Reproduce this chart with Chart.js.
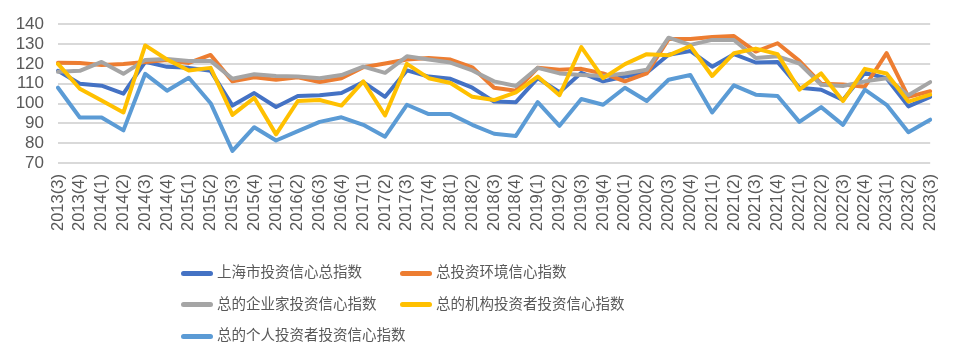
<!DOCTYPE html>
<html>
<head>
<meta charset="utf-8">
<script src="https://cdn.jsdelivr.net/npm/chart.js@4"></script>
<style>
	body { margin: 0; background: #fff; }
	#wrap { position: relative; width: 961px; height: 360px; }
	#legend { position: absolute; left: 181px; top: 258px; width: 700px; font-family: 'Noto Sans CJK SC', sans-serif; font-size: 14.5px; color: #595959; }
	.item { position: absolute; height: 26px; line-height: 26px; white-space: nowrap; }
	.swatch { display: inline-block; width: 32px; height: 5px; border-radius: 3px; vertical-align: middle; margin-right: 4px; }
</style>
</head>
<body>
<div id="wrap">
	<canvas id="chart" width="961" height="360"></canvas>
	<div id="legend"></div>
</div>
<script>
// quarters
const labels = [
	'2013(3)', '2013(4)', '2014(1)', '2014(2)', '2014(3)', '2014(4)', '2015(1)', '2015(2)', '2015(3)', '2015(4)',
	'2016(1)', '2016(2)', '2016(3)', '2016(4)', '2017(1)', '2017(2)', '2017(3)', '2017(4)', '2018(1)', '2018(2)',
	'2018(3)', '2018(4)', '2019(1)', '2019(2)', '2019(3)', '2019(4)', '2020(1)', '2020(2)', '2020(3)', '2020(4)',
	'2021(1)', '2021(2)', '2021(3)', '2021(4)', '2022(1)', '2022(2)', '2022(3)', '2022(4)', '2023(1)', '2023(2)',
	'2023(3)',
]

const names = ['上海市投资信心总指数', '总投资环境信心指数', '总的企业家投资信心指数', '总的机构投资者投资信心指数', '总的个人投资者投资信心指数']

const shanghai = [116.5, 110, 109, 105, 121, 118.5, 118, 116.5, 99, 105.3, 98.3, 103.8, 104.2, 105.3, 110.8, 103.4, 116.7, 113.6, 112.5, 108, 101, 100.7, 112.8, 105.7, 115.5, 111.2, 113.6, 115.5, 124.6, 126.5, 118.6, 124.9, 120.7, 121, 108, 107, 101.8, 115.5, 112.8, 98.6, 103.4]
const environment = [120.6, 120.5, 119.5, 120, 121, 122, 120.5, 124.5, 111.2, 113.3, 112, 113.3, 110.9, 112.8, 118.3, 120.2, 122.2, 123, 122.2, 118.3, 108, 106.5, 118, 117, 117.5, 115.2, 111.2, 115.2, 132.5, 132.5, 133.6, 134, 126.2, 130.4, 121.5, 110, 109.6, 108.5, 125.4, 103.4, 106.2]
const entrepreneur = [116, 116.5, 121, 115, 122, 122.5, 121.5, 121.5, 112.5, 114.8, 113.9, 113.6, 112.8, 114.4, 118.6, 115.5, 123.8, 122.2, 120.7, 116.7, 111.2, 108.9, 118, 115.2, 114.4, 113.9, 115.2, 117, 133.2, 129.6, 132.1, 132, 123, 123.8, 120.2, 109.5, 108.9, 111.2, 112.8, 104.2, 110.8]
const institution = [120, 107.5, 101.5, 95.5, 129.3, 122.2, 116.7, 118, 94.3, 102.9, 84.5, 101.3, 101.8, 99, 111.2, 94, 120, 112.8, 110.4, 103.4, 101.8, 105.7, 113.6, 104.2, 128.5, 112.8, 119.9, 124.9, 124.3, 129, 113.9, 125.4, 127.7, 124.9, 107, 115.2, 101.3, 117.5, 115.2, 101, 104.5]
const individual = [108, 93, 93, 86.5, 115, 106.5, 113, 100.2, 76.2, 88.1, 81.4, 86.1, 90.8, 93.1, 89.3, 83.3, 99.4, 94.7, 94.7, 89.3, 84.8, 83.7, 100.7, 88.8, 102.3, 99.4, 108, 101.3, 112, 114.4, 95.5, 109.2, 104.5, 103.8, 90.8, 98.2, 89.3, 107, 99.4, 85.6, 91.9]

const colors = ['#4472C4', '#ED7D31', '#A5A5A5', '#FFC000', '#5B9BD5']
const series = [shanghai, environment, entrepreneur, institution, individual]

const datasets = series.map(function (data, i) {
	return {
		label: names[i],
		data: data,
		borderColor: colors[i],
		backgroundColor: colors[i],
		borderWidth: 4,
		borderJoinStyle: 'round',
		borderCapStyle: 'round',
		pointRadius: 0,
		tension: 0,
		fill: false,
		order: series.length - i, // later series on top, like excel
	}
})

const config = {
	type: 'line',
	data: { labels: labels, datasets: datasets },
	options: {
		responsive: false,
		animation: false,
		layout: { padding: { top: 22, right: 23, left: 0, bottom: 118 } },
		plugins: {
			legend: { display: false },
			tooltip: { enabled: false },
		},
		scales: {
			x: {
				grid: { display: false, drawTicks: false },
				border: { display: false },
				ticks: {
					minRotation: 90,
					maxRotation: 90,
					autoSkip: false,
					padding: 11,
					color: '#595959',
					font: { family: 'Liberation Sans', size: 16.5 },
				},
			},
			y: {
				min: 70,
				max: 140,
				afterFit: function (scale) { scale.width = 58 },
				grid: { color: '#d9d9d9', lineWidth: 2, drawTicks: false },
				border: { display: false },
				ticks: {
					stepSize: 10,
					autoSkip: false,
					padding: 14,
					color: '#595959',
					font: { family: 'Liberation Sans', size: 17 },
				},
			},
		},
	},
}

const chart = new Chart(document.getElementById('chart'), config)

// legend, two columns like the original
const legend = document.getElementById('legend')
chart.data.datasets.forEach(function (ds, i) {
	const item = document.createElement('div')
	item.className = 'item'
	item.style.left = (i % 2) * 219 + 'px'
	item.style.top = Math.floor(i / 2) * 31.5 + 'px'
	item.innerHTML = '<span class="swatch" style="background:' + ds.borderColor + '"></span>' + ds.label
	legend.appendChild(item)
})
</script>
</body>
</html>
